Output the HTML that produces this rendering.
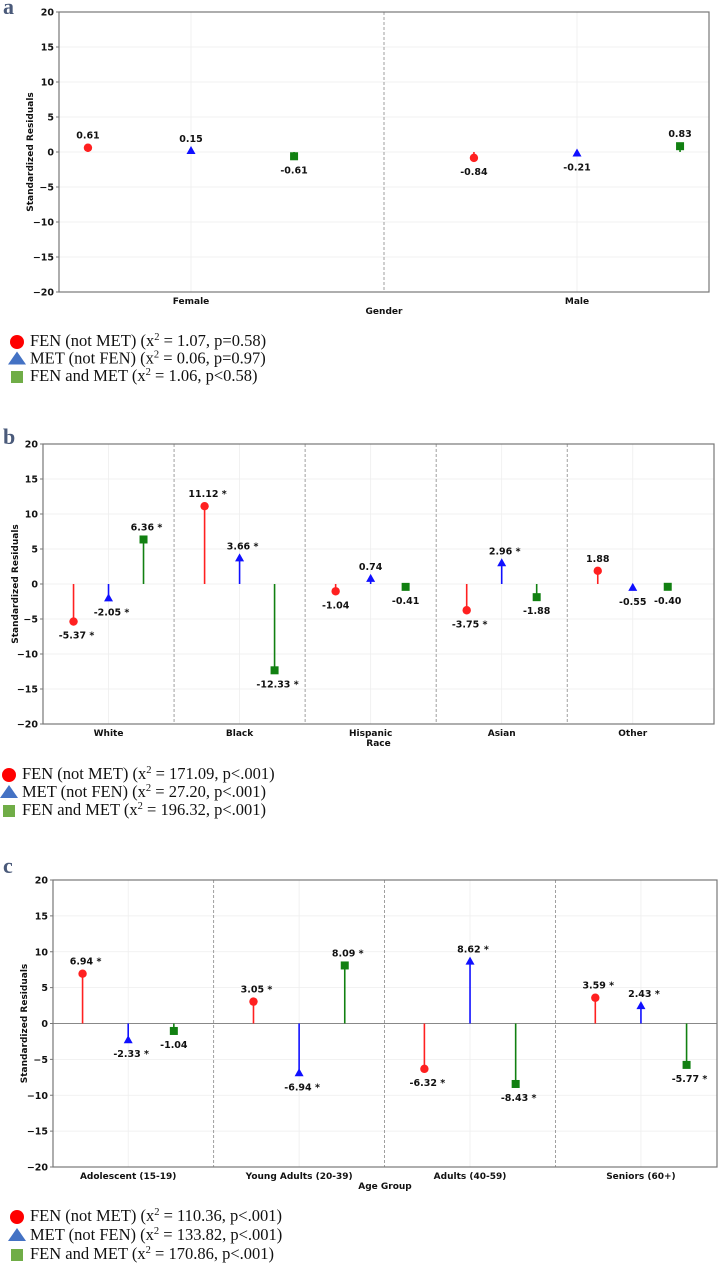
<!DOCTYPE html>
<html><head><meta charset="utf-8"><style>
body{margin:0;background:#fff;width:718px;height:1264px;overflow:hidden}
svg text{font-family:"DejaVu Sans","Liberation Sans",sans-serif}
.leg{font-family:"Liberation Serif",serif;font-size:16.5px;fill:#111}
.plet{font-family:"Liberation Serif",serif;font-weight:bold;font-size:22px;fill:#4a5a7a}
</style></head><body>
<svg id="chart" width="718" height="1264" xmlns="http://www.w3.org/2000/svg"></svg>
<script>
// Panel a: Gender
const catsA = ["Female","Male"];
const fenA = [0.61,-0.84];
const metA = [0.15,-0.21];
const bothA = [-0.61,0.83];
const sigA = [[false,false],[false,false],[false,false]];
// Panel b: Race
const catsB = ["White","Black","Hispanic","Asian","Other"];
const fenB = [-5.37,11.12,-1.04,-3.75,1.88];
const metB = [-2.05,3.66,0.74,2.96,-0.55];
const bothB = [6.36,-12.33,-0.41,-1.88,-0.40];
const sigB = [[true,true,false,true,false],[true,true,false,true,false],[true,true,false,false,false]];
// Panel c: Age
const catsC = ["Adolescent (15-19)","Young Adults (20-39)","Adults (40-59)","Seniors (60+)"];
const fenC = [6.94,3.05,-6.32,3.59];
const metC = [-2.33,-6.94,8.62,2.43];
const bothC = [-1.04,8.09,-8.43,-5.77];
const sigC = [[true,true,true,true],[true,true,true,true],[false,true,true,true]];
const yTicks = [-20,-15,-10,-5,0,5,10,15,20];
const legA = ["FEN (not MET) (x","2"," = 1.07, p=0.58)","MET (not FEN) (x","2"," = 0.06, p=0.97)","FEN and MET (x","2"," = 1.06, p<0.58)"];
const legB = ["FEN (not MET) (x","2"," = 171.09, p<.001)","MET (not FEN) (x","2"," = 27.20, p<.001)","FEN and MET (x","2"," = 196.32, p<.001)"];
const legC = ["FEN (not MET) (x","2"," = 110.36, p<.001)","MET (not FEN) (x","2"," = 133.82, p<.001)","FEN and MET (x","2"," = 170.86, p<.001)"];

const NS="http://www.w3.org/2000/svg";
const svg=document.getElementById('chart');
function mk(tag,attrs,parent,txt){const e=document.createElementNS(NS,tag);for(const k in attrs)e.setAttribute(k,attrs[k]);if(txt!==undefined)e.textContent=txt;(parent||svg).appendChild(e);return e;}

function panel(cfg){
  const g=mk('g',{});
  
  
  const {L,R,T,B,x0,x1,off}=cfg;
  const xs=v=>L+(v-x0)/(x1-x0)*(R-L);
  const ys=v=>T+(20-v)/40*(B-T);
  yTicks.forEach(t=>{mk('line',{x1:L,x2:R,y1:ys(t),y2:ys(t),stroke:'#eee','stroke-width':0.8},g);});
  cfg.cats.forEach((c,i)=>{mk('line',{x1:xs(i),x2:xs(i),y1:T,y2:B,stroke:'#eee','stroke-width':0.8},g);});
  for(let i=0;i<cfg.cats.length-1;i++){
    const d=mk('line',{x1:xs(i+0.5),x2:xs(i+0.5),y1:T,y2:B,stroke:'#888','stroke-width':0.8,'stroke-dasharray':'3,2'},g);
    
    
  }
  if(cfg.zero){mk('line',{x1:L,x2:R,y1:ys(0),y2:ys(0),stroke:'#888','stroke-width':1},g);}
  const fr=mk('rect',{x:L,y:T,width:R-L,height:B-T,fill:'none',stroke:'#777','stroke-width':1.2},g);
  
  
  yTicks.forEach(t=>{
    mk('line',{x1:L-3,x2:L,y1:ys(t),y2:ys(t),stroke:'#777'},g);
    const tx=mk('text',{x:L-5,y:ys(t)+3.5,'text-anchor':'end','font-size':9.5,'font-weight':'bold',fill:'#111'},g,t<0?'\u2212'+(-t):String(t));
    
    
  });
  cfg.cats.forEach((c,i)=>{
    const tx=mk('text',{x:xs(i),y:B+12,'text-anchor':'middle','font-size':9,'font-weight':'bold',fill:'#111'},g,c);
    
    
  });
  const xt=mk('text',{x:(L+R)/2,y:B+22,'text-anchor':'middle','font-size':9,'font-weight':'bold',fill:'#111'},g,cfg.xtitle);
  
  
  const yt=mk('text',{x:0,y:0,transform:`translate(${cfg.ylx},${(T+B)/2}) rotate(-90)`,'text-anchor':'middle','font-size':9,'font-weight':'bold',fill:'#111'},g,'Standardized Residuals');
  
  
  const series=[cfg.fen,cfg.met,cfg.both];
  const cols=['#ff2020','#1010ff','#118011'];
  const names=['fen-not-met','met-not-fen','fen-and-met'];
  series.forEach((vals,s)=>{
    vals.forEach((v,i)=>{
      const x=xs(i+(s-1)*off), y=ys(v), y0=ys(0);
      const st=mk('line',{x1:x,x2:x,y1:y0,y2:y,stroke:cols[s],'stroke-width':1.6},g);
      
      
      let m;
      if(s===0)m=mk('circle',{cx:x,cy:y,r:4.2,fill:cols[s]},g);
      else if(s===1)m=mk('polygon',{points:`${x},${y-5} ${x-4.5},${y+3} ${x+4.5},${y+3}`,fill:cols[s]},g);
      else m=mk('rect',{x:x-4,y:y-4,width:8,height:8,fill:cols[s]},g);
      
      
      const lbl=v.toFixed(2)+(cfg.sig[s][i]?' *':'');
      const ly=v>=0?y-9:y+17;
      const tx=mk('text',{x:x+(cfg.sig[s][i]?3:0),y:ly,'text-anchor':'middle','font-size':9.5,'font-weight':'bold',fill:'#111'},g,lbl);
      
      
    });
  });
  const lg=mk('g',{},svg);
  
  
  const lcols=['#ff0000','#4472c4','#70ad47'];
  for(let s=0;s<3;s++){
    const y=cfg.legY+s*cfg.legDY, x=cfg.legX;
    let m;
    if(s===0)m=mk('circle',{cx:x,cy:y-4,r:7,fill:lcols[0]},lg);
    else if(s===1)m=mk('polygon',{points:`${x},${y-12} ${x-9},${y+1} ${x+9},${y+1}`,fill:lcols[1]},lg);
    else m=mk('rect',{x:x-6,y:y-10,width:12,height:12,fill:lcols[2]},lg);
    
    
    const t=mk('text',{x:x+13,y:y,class:'leg'},lg);
    
    
    mk('tspan',{},t,cfg.leg[s*3]);
    mk('tspan',{'font-size':10.5,dy:-6},t,cfg.leg[s*3+1]);
    mk('tspan',{dy:6},t,cfg.leg[s*3+2]);
  }
  const pl=mk('text',{x:3,y:cfg.letY,class:'plet'},svg,cfg.letter);
  
  
}
panel({name:'panel-a-gender',letter:'a',letY:14,cats:catsA,fen:fenA,met:metA,both:bothA,sig:sigA,L:59,R:709,T:12,B:292,x0:-0.342,x1:1.342,off:0.267,zero:false,xtitle:'Gender',ylx:33,leg:legA,legX:17,legY:346,legDY:17.5});
panel({name:'panel-b-race',letter:'b',letY:444,cats:catsB,fen:fenB,met:metB,both:bothB,sig:sigB,L:43,R:714,T:444,B:724,x0:-0.5,x1:4.62,off:0.267,zero:false,xtitle:'Race',ylx:18,leg:legB,legX:9,legY:779,legDY:18});
panel({name:'panel-c-age',letter:'c',letY:873,cats:catsC,fen:fenC,met:metC,both:bothC,sig:sigC,L:53,R:717,T:880,B:1167,x0:-0.44,x1:3.445,off:0.267,zero:true,xtitle:'Age Group',ylx:27,leg:legC,legX:17,legY:1221,legDY:19});
</script>
</body></html>
